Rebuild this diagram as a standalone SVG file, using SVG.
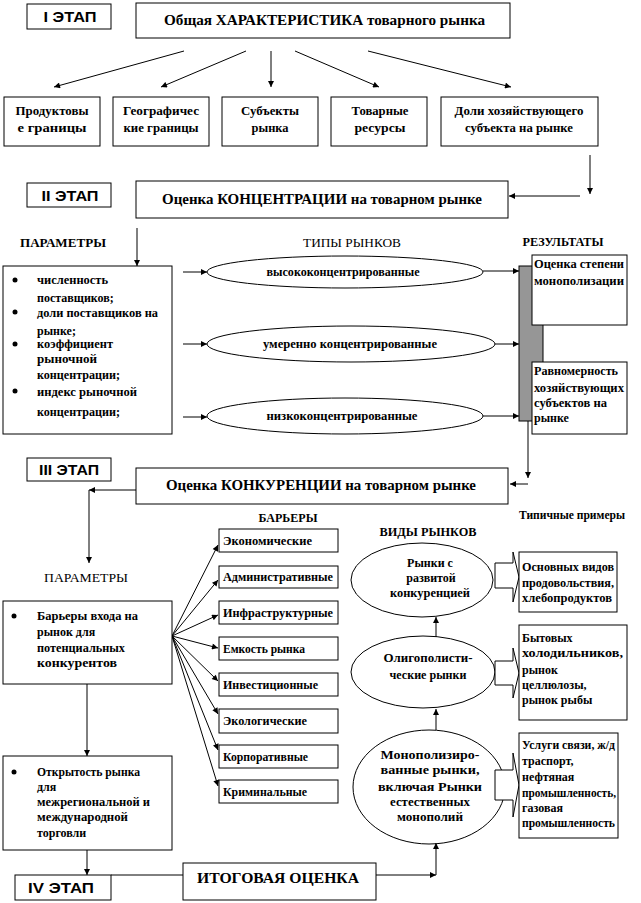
<svg xmlns="http://www.w3.org/2000/svg" width="641" height="903" viewBox="0 0 641 903">
<defs>
<marker id="ah" viewBox="0 0 10 10" refX="10" refY="5" markerWidth="7" markerHeight="6" markerUnits="userSpaceOnUse" orient="auto">
<path d="M0,0 L10,5 L0,10 z" fill="#000"/>
</marker>
</defs>
<style>
.b{fill:#fff;stroke:#000;stroke-width:1}
.e{fill:none;stroke:#000;stroke-width:1}
.c{fill:none;stroke:#000;stroke-width:1;marker-end:url(#ah)}
.s{font-family:"Liberation Sans",Arial,sans-serif;font-weight:bold;font-size:15px;fill:#000}
.t{font-family:"Liberation Serif","Times New Roman",serif;font-weight:bold;font-size:15px;fill:#000}
.m{font-family:"Liberation Serif","Times New Roman",serif;font-weight:bold;font-size:12px;fill:#000}
.n{font-family:"Liberation Serif","Times New Roman",serif;font-size:12px;fill:#000}
.mid{text-anchor:middle}
</style>
<rect width="641" height="903" fill="#fff"/>

<g id="connectors">
<line class="c" x1="184" y1="51" x2="54" y2="87"/>
<line class="c" x1="246" y1="51" x2="161" y2="87"/>
<line class="c" x1="271" y1="51" x2="271" y2="87"/>
<line class="c" x1="295" y1="51" x2="379" y2="87"/>
<line class="c" x1="368" y1="51" x2="511" y2="87"/>
<line class="c" x1="590" y1="155" x2="590" y2="194"/>
<line class="c" x1="580" y1="196" x2="509" y2="196"/>
<line class="c" x1="137" y1="228" x2="137" y2="266"/>
<line class="c" x1="183" y1="272" x2="207" y2="272"/>
<line class="c" x1="183" y1="344" x2="207" y2="344"/>
<line class="c" x1="183" y1="417" x2="207" y2="417"/>
<line class="c" x1="483" y1="271" x2="519" y2="271"/>
<line class="c" x1="495" y1="344" x2="519" y2="344"/>
<line class="c" x1="483" y1="416" x2="519" y2="416"/>
<line class="c" x1="528" y1="421" x2="528" y2="478"/>
<line class="c" x1="528" y1="484" x2="510" y2="484"/>
<line class="c" x1="136" y1="490" x2="89" y2="490"/>
<line class="c" x1="89" y1="490" x2="89" y2="563"/>
<line class="c" x1="172" y1="636" x2="218" y2="545"/>
<line class="c" x1="172" y1="636" x2="218" y2="580"/>
<line class="c" x1="172" y1="636" x2="218" y2="615"/>
<line class="c" x1="172" y1="636" x2="218" y2="648"/>
<line class="c" x1="172" y1="636" x2="218" y2="681"/>
<line class="c" x1="172" y1="636" x2="218" y2="714"/>
<line class="c" x1="172" y1="636" x2="218" y2="750"/>
<line class="c" x1="172" y1="636" x2="218" y2="786"/>
<line class="c" x1="87" y1="684" x2="87" y2="756"/>
<line class="c" x1="87" y1="850" x2="87" y2="875"/>
<line class="e" x1="111" y1="875" x2="183" y2="875"/>
<line class="c" x1="376" y1="875" x2="436" y2="875"/>
<line class="c" x1="436" y1="875" x2="436" y2="843"/>
<line class="c" x1="436" y1="637" x2="436" y2="617"/>
<line class="c" x1="436" y1="730" x2="436" y2="709"/>
</g>

<g id="stage1">
<rect class="b" x="27" y="4" width="84" height="25"/>
<text class="s mid" x="70" y="22" textLength="53" lengthAdjust="spacingAndGlyphs">I ЭТАП</text>
</g>
<g id="title1">
<rect class="b" x="136" y="3" width="374" height="35"/>
<text class="t" x="164" y="25" textLength="321" lengthAdjust="spacingAndGlyphs">Общая  ХАРАКТЕРИСТИКА товарного рынка</text>
</g>
<g id="item1">
<rect class="b" x="4" y="97" width="96" height="49"/>
<text class="m mid" x="52" y="115" textLength="73" lengthAdjust="spacingAndGlyphs">Продуктовы</text>
<text class="m mid" x="52" y="132" textLength="69" lengthAdjust="spacingAndGlyphs">е границы</text>
</g>
<g id="item2">
<rect class="b" x="113" y="97" width="96" height="49"/>
<text class="m mid" x="161" y="115" textLength="76" lengthAdjust="spacingAndGlyphs">Географичес</text>
<text class="m mid" x="161" y="132" textLength="75" lengthAdjust="spacingAndGlyphs">кие границы</text>
</g>
<g id="item3">
<rect class="b" x="222" y="97" width="96" height="49"/>
<text class="m mid" x="270" y="115" textLength="58" lengthAdjust="spacingAndGlyphs">Субъекты</text>
<text class="m mid" x="270" y="132" textLength="37" lengthAdjust="spacingAndGlyphs">рынка</text>
</g>
<g id="item4">
<rect class="b" x="331" y="97" width="96" height="49"/>
<text class="m mid" x="380" y="115" textLength="57" lengthAdjust="spacingAndGlyphs">Товарные</text>
<text class="m mid" x="380" y="132" textLength="51" lengthAdjust="spacingAndGlyphs">ресурсы</text>
</g>
<g id="item5">
<rect class="b" x="441" y="97" width="157" height="49"/>
<text class="m mid" x="519" y="115" textLength="129" lengthAdjust="spacingAndGlyphs">Доли хозяйствующего</text>
<text class="m mid" x="519" y="132" textLength="108" lengthAdjust="spacingAndGlyphs">субъекта на рынке</text>
</g>

<g id="stage2">
<rect class="b" x="27" y="183" width="84" height="24"/>
<text class="s mid" x="70" y="201" textLength="57" lengthAdjust="spacingAndGlyphs">II ЭТАП</text>
</g>
<g id="title2">
<rect class="b" x="136" y="181" width="372" height="37"/>
<text class="t mid" x="322" y="204" textLength="320" lengthAdjust="spacingAndGlyphs">Оценка КОНЦЕНТРАЦИИ на товарном рынке</text>
</g>
<g id="labels2">
<text class="m mid" x="63" y="247" textLength="86" lengthAdjust="spacingAndGlyphs">ПАРАМЕТРЫ</text>
<text class="n mid" x="352" y="247" textLength="98" lengthAdjust="spacingAndGlyphs">ТИПЫ РЫНКОВ</text>
<text class="m mid" x="563" y="246" textLength="81" lengthAdjust="spacingAndGlyphs">РЕЗУЛЬТАТЫ</text>
</g>
<g id="params2">
<rect class="b" x="3" y="266" width="169" height="168"/>
<circle cx="15" cy="280" r="2.5"/>
<circle cx="15" cy="312" r="2.5"/>
<circle cx="15" cy="344" r="2.5"/>
<circle cx="15" cy="391" r="2.5"/>
<text class="m" x="37" y="284" textLength="71" lengthAdjust="spacingAndGlyphs">численность</text>
<text class="m" x="37" y="302">поставщиков;</text>
<text class="m" x="37" y="317" textLength="121" lengthAdjust="spacingAndGlyphs">доли поставщиков на</text>
<text class="m" x="37" y="335">рынке;</text>
<text class="m" x="37" y="348" textLength="76" lengthAdjust="spacingAndGlyphs">коэффициент</text>
<text class="m" x="37" y="363" textLength="60" lengthAdjust="spacingAndGlyphs">рыночной</text>
<text class="m" x="37" y="379" textLength="83" lengthAdjust="spacingAndGlyphs">концентрации;</text>
<text class="m" x="37" y="396" textLength="100" lengthAdjust="spacingAndGlyphs">индекс рыночной</text>
<text class="m" x="37" y="416" textLength="83" lengthAdjust="spacingAndGlyphs">концентрации;</text>
</g>
<g id="type-high">
<ellipse class="e" cx="345" cy="272" rx="138" ry="16"/>
<text class="m mid" x="343" y="276" textLength="153" lengthAdjust="spacingAndGlyphs">высококонцентрированные</text>
</g>
<g id="type-mid">
<ellipse class="e" cx="351" cy="344" rx="144" ry="18"/>
<text class="m mid" x="350" y="348" textLength="174" lengthAdjust="spacingAndGlyphs">умеренно концентрированные</text>
</g>
<g id="type-low">
<ellipse class="e" cx="345" cy="416" rx="138" ry="18"/>
<text class="m mid" x="342" y="420" textLength="151" lengthAdjust="spacingAndGlyphs">низкоконцентрированные</text>
</g>
<g id="results">
<rect x="519" y="266" width="24" height="155" fill="#969696" stroke="#000" stroke-width="1"/>
<rect class="b" x="532" y="255" width="95" height="70"/>
<text class="m" x="534" y="268" textLength="90" lengthAdjust="spacingAndGlyphs">Оценка степени</text>
<text class="m" x="534" y="285" textLength="90" lengthAdjust="spacingAndGlyphs">монополизации</text>
<rect class="b" x="532" y="362" width="95" height="72"/>
<text class="m" x="534" y="375" textLength="84" lengthAdjust="spacingAndGlyphs">Равномерность</text>
<text class="m" x="534" y="392" textLength="90" lengthAdjust="spacingAndGlyphs">хозяйствующих</text>
<text class="m" x="534" y="407" textLength="73" lengthAdjust="spacingAndGlyphs">субъектов на</text>
<text class="m" x="534" y="422">рынке</text>
</g>

<g id="stage3">
<rect class="b" x="27" y="458" width="84" height="23"/>
<text class="s mid" x="69" y="475" textLength="60" lengthAdjust="spacingAndGlyphs">III ЭТАП</text>
</g>
<g id="title3">
<rect class="b" x="136" y="468" width="372" height="36"/>
<text class="t mid" x="321" y="490" textLength="310" lengthAdjust="spacingAndGlyphs">Оценка КОНКУРЕНЦИИ на товарном рынке</text>
</g>
<g id="labels3">
<text class="n mid" x="86" y="582" textLength="84" lengthAdjust="spacingAndGlyphs">ПАРАМЕТРЫ</text>
<text class="m mid" x="288" y="522" textLength="59" lengthAdjust="spacingAndGlyphs">БАРЬЕРЫ</text>
<text class="m mid" x="428" y="536" textLength="97" lengthAdjust="spacingAndGlyphs">ВИДЫ РЫНКОВ</text>
<text class="m mid" x="572" y="519" textLength="106" lengthAdjust="spacingAndGlyphs">Типичные примеры</text>
</g>
<g id="params3">
<rect class="b" x="3" y="601" width="169" height="83"/>
<circle cx="14" cy="616" r="2.5"/>
<text class="m" x="37" y="620" textLength="101" lengthAdjust="spacingAndGlyphs">Барьеры входа на</text>
<text class="m" x="37" y="636">рынок для</text>
<text class="m" x="37" y="652" textLength="88" lengthAdjust="spacingAndGlyphs">потенциальных</text>
<text class="m" x="37" y="667" textLength="80" lengthAdjust="spacingAndGlyphs">конкурентов</text>
</g>
<g id="openness">
<rect class="b" x="3" y="756" width="169" height="94"/>
<circle cx="14" cy="772" r="2.5"/>
<text class="m" x="37" y="776" textLength="103" lengthAdjust="spacingAndGlyphs">Открытость рынка</text>
<text class="m" x="37" y="791">для</text>
<text class="m" x="37" y="806" textLength="113" lengthAdjust="spacingAndGlyphs">межрегиональной и</text>
<text class="m" x="37" y="821" textLength="91" lengthAdjust="spacingAndGlyphs">международной</text>
<text class="m" x="37" y="837">торговли</text>
</g>
<g id="barrier1"><rect class="b" x="219" y="529" width="119" height="23"/><text class="m" x="223" y="545" textLength="89" lengthAdjust="spacingAndGlyphs">Экономические</text></g>
<g id="barrier2"><rect class="b" x="219" y="566" width="119" height="22"/><text class="m" x="223" y="581" textLength="110" lengthAdjust="spacingAndGlyphs">Административные</text></g>
<g id="barrier3"><rect class="b" x="219" y="601" width="119" height="23"/><text class="m" x="223" y="617" textLength="110" lengthAdjust="spacingAndGlyphs">Инфраструктурные</text></g>
<g id="barrier4"><rect class="b" x="219" y="637" width="119" height="23"/><text class="m" x="223" y="653" textLength="82" lengthAdjust="spacingAndGlyphs">Емкость рынка</text></g>
<g id="barrier5"><rect class="b" x="219" y="673" width="119" height="23"/><text class="m" x="223" y="689" textLength="95" lengthAdjust="spacingAndGlyphs">Инвестиционные</text></g>
<g id="barrier6"><rect class="b" x="219" y="709" width="119" height="24"/><text class="m" x="223" y="725" textLength="84" lengthAdjust="spacingAndGlyphs">Экологические</text></g>
<g id="barrier7"><rect class="b" x="219" y="745" width="119" height="23"/><text class="m" x="223" y="761" textLength="85" lengthAdjust="spacingAndGlyphs">Корпоративные</text></g>
<g id="barrier8"><rect class="b" x="219" y="780" width="119" height="23"/><text class="m" x="223" y="796" textLength="84" lengthAdjust="spacingAndGlyphs">Криминальные</text></g>

<g id="market-competitive">
<ellipse class="e" cx="422" cy="580" rx="71" ry="37"/>
<text class="m mid" x="430" y="567">Рынки с</text>
<text class="m mid" x="431" y="582">развитой</text>
<text class="m mid" x="430" y="597" textLength="80" lengthAdjust="spacingAndGlyphs">конкуренцией</text>
<polygon class="b" points="495,563 513,563 513,552 519,577 513,602 513,588 495,588"/>
</g>
<g id="market-oligopoly">
<ellipse class="e" cx="423" cy="672" rx="72" ry="36"/>
<text class="m mid" x="428" y="662" textLength="89" lengthAdjust="spacingAndGlyphs">Олигополисти-</text>
<text class="m mid" x="428" y="679" textLength="77" lengthAdjust="spacingAndGlyphs">ческие рынки</text>
<polygon class="b" points="495,661 513,661 513,648 519,673 513,698 513,685 495,685"/>
</g>
<g id="market-monopoly">
<ellipse class="e" cx="429" cy="787" rx="76" ry="57"/>
<text class="m mid" x="430" y="759" textLength="99" lengthAdjust="spacingAndGlyphs">Монополизиро-</text>
<text class="m mid" x="430" y="774" textLength="99" lengthAdjust="spacingAndGlyphs">ванные рынки,</text>
<text class="m mid" x="430" y="791" textLength="104" lengthAdjust="spacingAndGlyphs">включая Рынки</text>
<text class="m mid" x="430" y="806" textLength="80" lengthAdjust="spacingAndGlyphs">естественных</text>
<text class="m mid" x="430" y="821" textLength="66" lengthAdjust="spacingAndGlyphs">монополий</text>
<polygon class="b" points="495,770 513,770 513,753 519,785 513,817 513,800 495,800"/>
</g>
<g id="example1">
<rect class="b" x="519" y="552" width="98" height="60"/>
<text class="m" x="522" y="571" textLength="92" lengthAdjust="spacingAndGlyphs">Основных видов</text>
<text class="m" x="522" y="587" textLength="92" lengthAdjust="spacingAndGlyphs">продовольствия,</text>
<text class="m" x="522" y="602" textLength="90" lengthAdjust="spacingAndGlyphs">хлебопродуктов</text>
</g>
<g id="example2">
<rect class="b" x="519" y="625" width="108" height="95"/>
<text class="m" x="522" y="642">Бытовых</text>
<text class="m" x="522" y="657" textLength="101" lengthAdjust="spacingAndGlyphs">холодильников,</text>
<text class="m" x="522" y="674">рынок</text>
<text class="m" x="522" y="689">целлюлозы,</text>
<text class="m" x="522" y="704">рынок рыбы</text>
</g>
<g id="example3">
<rect class="b" x="519" y="733" width="99" height="105"/>
<text class="m" x="522" y="749" textLength="93" lengthAdjust="spacingAndGlyphs">Услуги связи, ж/д</text>
<text class="m" x="522" y="765">траспорт,</text>
<text class="m" x="522" y="781">нефтяная</text>
<text class="m" x="522" y="797" textLength="94" lengthAdjust="spacingAndGlyphs">промышленность,</text>
<text class="m" x="522" y="812">газовая</text>
<text class="m" x="522" y="827" textLength="93" lengthAdjust="spacingAndGlyphs">промышленность</text>
</g>

<g id="stage4">
<rect class="b" x="15" y="875" width="96" height="25"/>
<text class="s mid" x="61" y="893" textLength="66" lengthAdjust="spacingAndGlyphs">IV ЭТАП</text>
</g>
<g id="final">
<rect class="b" x="183" y="863" width="193" height="37"/>
<text class="t mid" x="278" y="883" textLength="162" lengthAdjust="spacingAndGlyphs">ИТОГОВАЯ ОЦЕНКА</text>
</g>
</svg>
